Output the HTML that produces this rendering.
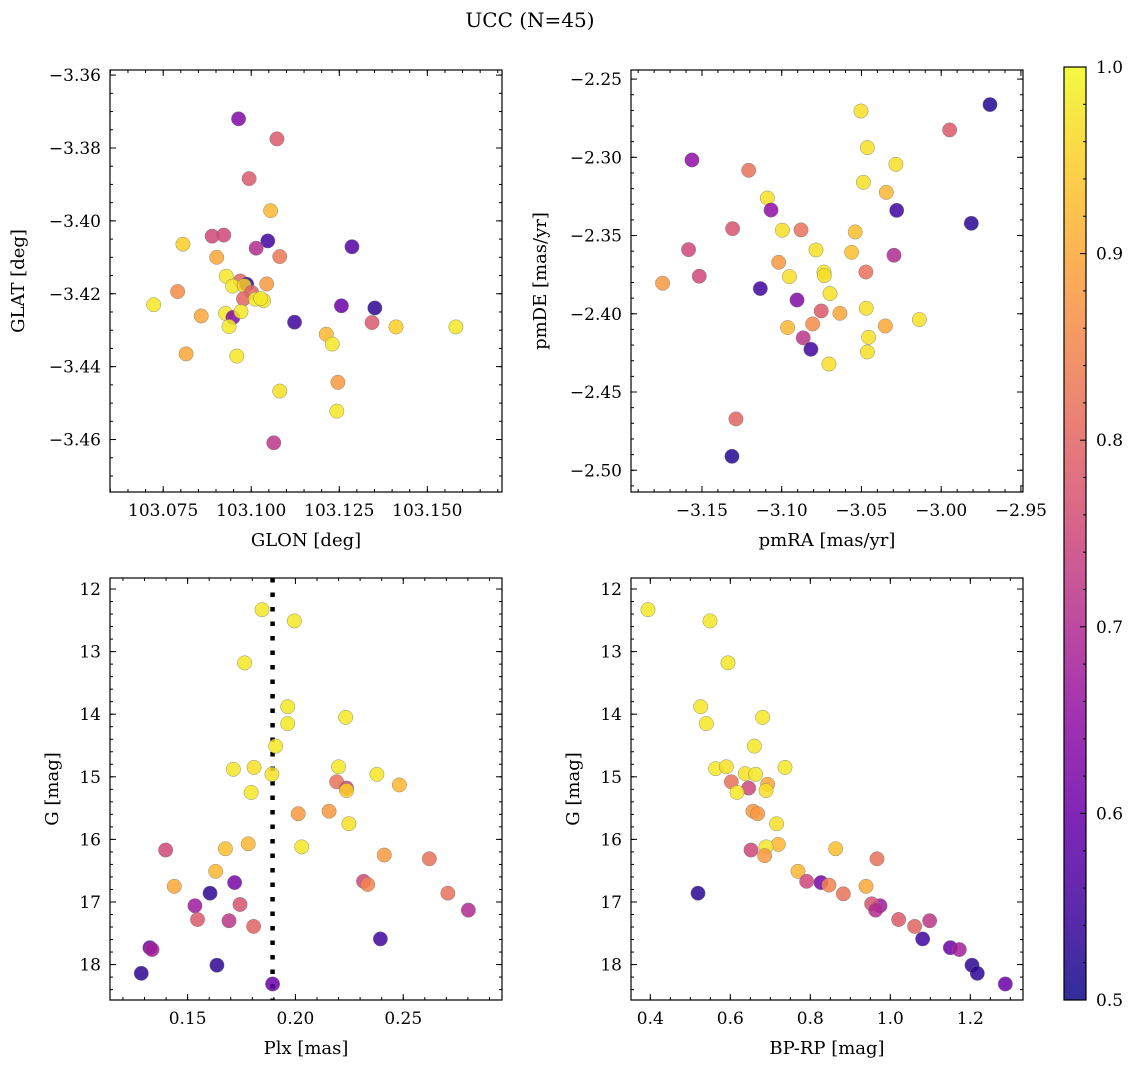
<!DOCTYPE html>
<html><head><meta charset="utf-8"><style>
html,body{margin:0;padding:0;background:#fff;}
svg{display:block;font-family:"DejaVu Serif","Liberation Serif",serif;}
</style></head><body>
<svg id="fig" width="1136" height="1067" viewBox="0 0 1136 1067" xmlns="http://www.w3.org/2000/svg">
<text x="530" y="27" font-size="20" text-anchor="middle">UCC (N=45)</text>
</svg>
<script>
// ---- Panel 1: GLON vs GLAT ----
const p1Lon=[103.0964,103.1073,103.0994,103.1055,103.0889,103.0922,103.1047,103.1014,103.1286,103.1081,103.0806,103.0902,103.0929,103.0791,103.0723,103.1044,103.0969,103.0987,103.0947,103.0980,103.1001,103.0978,103.1012,103.1035,103.1027,103.0858,103.0927,103.0948,103.0971,103.0937,103.1256,103.1351,103.1123,103.1343,103.1411,103.1581,103.1213,103.1230,103.0815,103.0959,103.1246,103.1081,103.1243,103.1064];
const p1Lat=[-3.3720,-3.3775,-3.3884,-3.3972,-3.4042,-3.4039,-3.4055,-3.4075,-3.4071,-3.4098,-3.4064,-3.4100,-3.4152,-3.4194,-3.4230,-3.4173,-3.4165,-3.4174,-3.4179,-3.4178,-3.4196,-3.4214,-3.4215,-3.4219,-3.4213,-3.4261,-3.4254,-3.4265,-3.4249,-3.4290,-3.4233,-3.4239,-3.4278,-3.4279,-3.4291,-3.4291,-3.4311,-3.4338,-3.4365,-3.4371,-3.4443,-3.4467,-3.4522,-3.4609];
const p1Prob=[0.63,0.78,0.78,0.92,0.75,0.75,0.55,0.7,0.57,0.83,0.95,0.9,0.98,0.86,0.98,0.88,0.8,0.52,0.98,0.95,0.8,0.8,0.98,0.98,0.98,0.9,0.98,0.63,0.98,0.98,0.6,0.53,0.55,0.78,0.95,0.98,0.92,0.98,0.9,0.98,0.88,0.97,0.98,0.72];
const p1XTicks=[103.075,103.100,103.125,103.150];
const p1YTicks=[-3.36,-3.38,-3.40,-3.42,-3.44,-3.46];
// ---- Panel 2: pmRA vs pmDE ----
const p2RA=[-2.9694,-3.0503,-2.9947,-3.0463,-3.1563,-3.0284,-3.1207,-3.0488,-3.0344,-3.1090,-3.0279,-3.1067,-2.9811,-3.1308,-3.0996,-3.0879,-3.0539,-3.1584,-3.0785,-3.0562,-3.0296,-3.1019,-3.0735,-3.0733,-3.0472,-3.1517,-3.0952,-3.1747,-3.1134,-3.0697,-3.0904,-3.0470,-3.0752,-3.0635,-3.0137,-3.0806,-3.0350,-3.0963,-3.0455,-3.0865,-3.0817,-3.0463,-3.0704,-3.1287,-3.1312];
const p2DE=[-2.2663,-2.2704,-2.2825,-2.2938,-2.3017,-2.3045,-2.3083,-2.3160,-2.3224,-2.3260,-2.3339,-2.3337,-2.3422,-2.3456,-2.3466,-2.3464,-2.3477,-2.3590,-2.3592,-2.3607,-2.3626,-2.3671,-2.3733,-2.3756,-2.3733,-2.3760,-2.3763,-2.3805,-2.3839,-2.3871,-2.3912,-2.3965,-2.3982,-2.3997,-2.4037,-2.4065,-2.4078,-2.4088,-2.4150,-2.4154,-2.4227,-2.4244,-2.4321,-2.4672,-2.4911];
const p2Prob=[0.52,0.97,0.78,0.97,0.65,0.97,0.82,0.97,0.92,0.97,0.55,0.65,0.53,0.77,0.97,0.82,0.93,0.75,0.97,0.93,0.7,0.88,0.98,0.97,0.82,0.75,0.97,0.88,0.55,0.97,0.63,0.97,0.78,0.9,0.97,0.86,0.9,0.92,0.97,0.72,0.55,0.97,0.97,0.8,0.52];
const p2XTicks=[-3.15,-3.10,-3.05,-3.00,-2.95];
const p2YTicks=[-2.25,-2.30,-2.35,-2.40,-2.45,-2.50];
// ---- Panels 3 & 4 ----
const plx=[0.1845,0.1995,0.1764,0.1964,0.2233,0.1964,0.1908,0.1712,0.1808,0.2200,0.1891,0.2378,0.2191,0.2237,0.2237,0.2482,0.1795,0.2156,0.2013,0.2248,0.1781,0.2029,0.1398,0.1675,0.2412,0.2621,0.1630,0.1438,0.1718,0.2316,0.2335,0.1604,0.2707,0.1534,0.1743,0.2802,0.1546,0.1692,0.1806,0.2394,0.1325,0.1335,0.1636,0.1285,0.1894];
const gMag3=[12.33,12.51,13.18,13.88,14.05,14.15,14.51,14.88,14.85,14.84,14.96,14.96,15.08,15.18,15.22,15.13,15.25,15.55,15.59,15.75,16.07,16.12,16.17,16.15,16.25,16.31,16.51,16.75,16.69,16.67,16.72,16.86,16.86,17.06,17.04,17.13,17.28,17.30,17.39,17.59,17.73,17.76,18.01,18.14,18.31];
const p3Prob=[0.98,0.98,0.98,0.98,0.98,0.98,0.98,0.98,0.97,0.98,0.97,0.98,0.82,0.75,0.95,0.92,0.98,0.88,0.88,0.97,0.92,0.98,0.75,0.93,0.88,0.82,0.92,0.9,0.62,0.75,0.85,0.53,0.82,0.67,0.77,0.7,0.78,0.72,0.8,0.55,0.6,0.68,0.53,0.53,0.6];
const bprp=[0.3942,0.5492,0.5942,0.5258,0.6808,0.5400,0.6600,0.5633,0.5900,0.7367,0.6375,0.6633,0.6025,0.6458,0.6933,0.6892,0.6167,0.6567,0.6683,0.7158,0.7200,0.6892,0.6517,0.8633,0.6858,0.9667,0.7692,0.9392,0.8267,0.7908,0.8467,0.5192,0.8825,0.9742,0.9533,0.9633,1.0208,1.0983,1.0608,1.0808,1.1500,1.1725,1.2042,1.2175,1.2875];
const gMag4=[12.33,12.51,13.18,13.88,14.05,14.15,14.51,14.87,14.84,14.85,14.95,14.96,15.08,15.18,15.12,15.22,15.25,15.55,15.59,15.75,16.08,16.12,16.17,16.15,16.26,16.31,16.51,16.75,16.69,16.67,16.73,16.86,16.87,17.06,17.03,17.13,17.28,17.30,17.39,17.59,17.73,17.76,18.01,18.14,18.31];
const p4Prob=[0.98,0.98,0.98,0.98,0.98,0.98,0.98,0.98,0.97,0.98,0.97,0.98,0.82,0.75,0.9,0.97,0.98,0.88,0.88,0.97,0.92,0.98,0.75,0.93,0.88,0.82,0.92,0.9,0.62,0.75,0.85,0.53,0.82,0.67,0.77,0.7,0.78,0.72,0.8,0.55,0.6,0.68,0.53,0.53,0.6];
const p3XTicks=[0.15,0.20,0.25];
const p4XTicks=[0.4,0.6,0.8,1.0,1.2];
const gTicks=[12,13,14,15,16,17,18];
const plxLine=[0.1894];
const cbTicks=[0.5,0.6,0.7,0.8,0.9,1.0];

const NS="http://www.w3.org/2000/svg";
const svg=document.getElementById('fig');
const TF=17, LF=18;
function mk(tag,attrs,parent){const e=document.createElementNS(NS,tag);for(const k in attrs)e.setAttribute(k,attrs[k]);(parent||svg).appendChild(e);return e;}
const stops=[[0,[13,8,135]],[0.1,[65,4,157]],[0.2,[106,0,168]],[0.3,[143,13,164]],[0.4,[177,42,144]],[0.5,[204,71,120]],[0.6,[225,100,98]],[0.7,[242,132,75]],[0.8,[252,166,54]],[0.9,[252,206,37]],[1,[240,249,33]]];
function plasma(t){t=Math.max(0,Math.min(1,t));for(let i=1;i<stops.length;i++){if(t<=stops[i][0]){const a=stops[i-1],b=stops[i];const f=(t-a[0])/(b[0]-a[0]);const c=a[1].map((v,j)=>Math.round(v+(b[1][j]-v)*f));return 'rgb('+c.join(',')+')';}}return 'rgb(240,249,33)';}
function probColor(p){return plasma((p-0.5)/0.5);}
function fmt(v,d){const s=Math.abs(v).toFixed(d);return (v<0?'\u2212':'')+s;}

function panel(o){
  const g=mk('g',{});
  
  
  const sx=v=>o.x0+(v-o.xmin)/(o.xmax-o.xmin)*(o.x1-o.x0);
  const sy=o.yinv?(v=>o.y0+(v-o.ymin)/(o.ymax-o.ymin)*(o.y1-o.y0)):(v=>o.y1-(v-o.ymin)/(o.ymax-o.ymin)*(o.y1-o.y0));
  const tk=mk('g',{stroke:'#000','stroke-width':1},g);
  
  
  const xs=Math.ceil(o.xmin/o.xminor-1e-6);
  for(let i=xs;i*o.xminor<=o.xmax+1e-9;i++){const X=sx(i*o.xminor);mk('line',{x1:X,x2:X,y1:o.y1,y2:o.y1-3},tk);mk('line',{x1:X,x2:X,y1:o.y0,y2:o.y0+3},tk);}
  const lo=Math.min(o.ymin,o.ymax),hi=Math.max(o.ymin,o.ymax);
  for(let i=Math.ceil(lo/o.yminor-1e-6);i*o.yminor<=hi+1e-9;i++){const Y=sy(i*o.yminor);mk('line',{x1:o.x0,x2:o.x0+3,y1:Y,y2:Y},tk);mk('line',{x1:o.x1,x2:o.x1-3,y1:Y,y2:Y},tk);}
  o.xticks.forEach(v=>{const X=sx(v);mk('line',{x1:X,x2:X,y1:o.y1,y2:o.y1-6},tk);mk('line',{x1:X,x2:X,y1:o.y0,y2:o.y0+6},tk);
    const t=mk('text',{x:X,y:o.y1+24,'font-size':TF,'text-anchor':'middle'},g);t.textContent=fmt(v,o.xd);
    
    });
  o.yticks.forEach(v=>{const Y=sy(v);mk('line',{x1:o.x0,x2:o.x0+6,y1:Y,y2:Y},tk);mk('line',{x1:o.x1,x2:o.x1-6,y1:Y,y2:Y},tk);
    const t=mk('text',{x:o.x0-9,y:Y+6,'font-size':TF,'text-anchor':'end'},g);t.textContent=fmt(v,o.yd);
    
    });
  if(o.vline){o.vline.forEach(v=>{const l=mk('line',{x1:sx(v),x2:sx(v),y1:o.y0,y2:o.y1,stroke:'#000','stroke-width':4.5,'stroke-dasharray':'4.5,10'},g);
    
    });}
  o.xs.forEach((v,i)=>{const c=mk('circle',{cx:sx(v),cy:sy(o.ys[i]),r:7.2,fill:probColor(o.pr[i]),'fill-opacity':0.85,stroke:'#777','stroke-width':0.5,'stroke-opacity':0.8},g);
    
    });
  const fr=mk('rect',{x:o.x0,y:o.y0,width:o.x1-o.x0,height:o.y1-o.y0,fill:'none',stroke:'#000','stroke-width':1.2},g);
  
  
  const xl=mk('text',{x:(o.x0+o.x1)/2,y:o.y1+54,'font-size':LF,'text-anchor':'middle'},g);xl.textContent=o.xlabel;
  
  
  const yx=o.ylx,yy=(o.y0+o.y1)/2;
  const yl=mk('text',{x:yx,y:yy,'font-size':LF,'text-anchor':'middle',transform:'rotate(-90 '+yx+' '+yy+')'},g);yl.textContent=o.ylabel;
  
  
}
panel({name:'glon-glat-panel',x0:110,x1:502,y0:70,y1:492,xmin:103.0599,xmax:103.1712,ymin:-3.4744,ymax:-3.3586,xticks:p1XTicks,yticks:p1YTicks,xminor:0.005,yminor:0.005,xd:3,yd:2,xs:p1Lon,ys:p1Lat,pr:p1Prob,xlabel:'GLON [deg]',ylabel:'GLAT [deg]',ylx:24});
panel({name:'proper-motion-panel',x0:631,x1:1023,y0:70,y1:492,xmin:-3.1945,xmax:-2.9487,ymin:-2.5139,ymax:-2.2442,xticks:p2XTicks,yticks:p2YTicks,xminor:0.01,yminor:0.01,xd:2,yd:2,xs:p2RA,ys:p2DE,pr:p2Prob,xlabel:'pmRA [mas/yr]',ylabel:'pmDE [mas/yr]',ylx:546});
panel({name:'plx-g-panel',x0:110,x1:502,y0:578,y1:1000,xmin:0.1140,xmax:0.2958,ymin:11.824,ymax:18.566,yinv:true,xticks:p3XTicks,yticks:gTicks,xminor:0.01,yminor:0.2,xd:2,yd:0,xs:plx,ys:gMag3,pr:p3Prob,xlabel:'Plx [mas]',ylabel:'G [mag]',ylx:58,vline:plxLine});
panel({name:'cmd-panel',x0:631,x1:1023,y0:578,y1:1000,xmin:0.3517,xmax:1.3317,ymin:11.824,ymax:18.566,yinv:true,xticks:p4XTicks,yticks:gTicks,xminor:0.05,yminor:0.2,xd:1,yd:0,xs:bprp,ys:gMag4,pr:p4Prob,xlabel:'BP-RP [mag]',ylabel:'G [mag]',ylx:579});

const cb=mk('g',{});


const defs=mk('defs',{},cb);
const lg=mk('linearGradient',{id:'cbg',x1:0,y1:1,x2:0,y2:0},defs);
for(let i=0;i<=20;i++){mk('stop',{offset:i/20,'stop-color':plasma(i/20),'stop-opacity':0.85},lg);}
const CB={x0:1064,x1:1086,y0:67,y1:1000,min:0.5,max:1.0};
const cy=v=>CB.y1-(v-CB.min)/(CB.max-CB.min)*(CB.y1-CB.y0);
mk('rect',{x:CB.x0,y:CB.y0,width:CB.x1-CB.x0,height:CB.y1-CB.y0,fill:'url(#cbg)',stroke:'#000','stroke-width':1.2},cb);
for(let i=25;i<=50;i++){const v=i*0.02;const Y=cy(v);const major=(i%5===0);mk('line',{x1:CB.x1,x2:CB.x1-(major?6:3),y1:Y,y2:Y,stroke:'#000','stroke-width':1},cb);}
cbTicks.forEach(v=>{const t=mk('text',{x:CB.x1+10,y:cy(v)+6,'font-size':TF},cb);t.textContent=v.toFixed(1);
  
  });
</script>
</body></html>
